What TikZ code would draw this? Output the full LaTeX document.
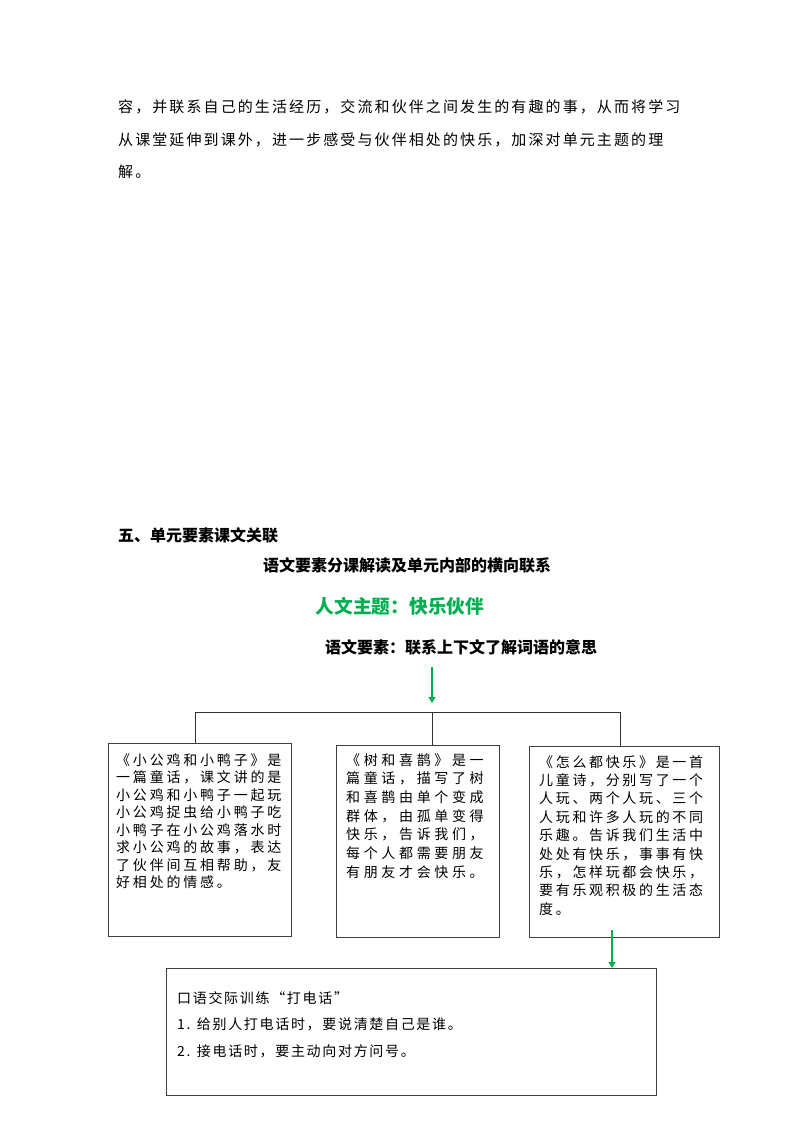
\documentclass[tikz,border=0pt]{standalone}
\usepackage{fontspec}
\setmainfont{Noto Sans CJK SC}
\usetikzlibrary{arrows.meta}
\definecolor{tgreen}{HTML}{00B050}
\definecolor{boxgray}{HTML}{404040}
\definecolor{linegray}{HTML}{333333}
\tikzset{
  txt/.style={inner sep=0pt, anchor=west},
  para/.style={txt, font=\fontsize{15}{17}\selectfont\addfontfeature{LetterSpace=14}},
  heading/.style={txt, font=\fontsize{16}{18}\selectfont\bfseries},
  boxtxt/.style={inner sep=0pt, anchor=north west, align=left},
  frame/.style={draw=boxgray, line width=1.2pt, inner sep=0pt, anchor=north west},
  conn/.style={draw=linegray, line width=0.9pt},
  garrow/.style={draw=tgreen, line width=1.4pt, -{Triangle[length=6pt,width=7pt]}}
}
\begin{document}
\begin{tikzpicture}[x=1pt,y=-1pt]
\useasboundingbox (0,0) rectangle (800,1132);
\fill[white] (0,0) rectangle (800,1132);
% paragraph
\node[para] (p1) at (118,107) {容，并联系自己的生活经历，交流和伙伴之间发生的有趣的事，从而将学习};
\node[para] (p2) at (118,140) {从课堂延伸到课外，进一步感受与伙伴相处的快乐，加深对单元主题的理};
\node[para] (p3) at (118,172) {解。};
% headings
\node[heading] (h1) at (118,535) {五、单元要素课文关联};
\node[heading, anchor=center] (h2) at (407,565) {语文要素分课解读及单元内部的横向联系};
\node[inner sep=0pt, text=tgreen, font=\fontsize{18.7}{20}\selectfont\bfseries] (h3) at (400,606) {人文主题：快乐伙伴};
\node[heading, anchor=center] (h4) at (461,647) {语文要素：联系上下文了解词语的意思};
% boxes
\node[frame, minimum width=183pt, minimum height=193pt] (b1) at (108,743) {};
\node[frame, minimum width=163pt, minimum height=192pt] (b2) at (336,745) {};
\node[frame, minimum width=190pt, minimum height=191pt] (b3) at (529,746) {};
\node[frame, minimum width=490pt, minimum height=127pt] (b4) at (166,968) {};
% box texts
\node[boxtxt, font=\fontsize{14}{17.5}\selectfont\addfontfeature{LetterSpace=20}] (t1) at (116,753) {%
《小公鸡和小鸭子》是\\一篇童话，课文讲的是\\小公鸡和小鸭子一起玩\\小公鸡捉虫给小鸭子吃\\小鸭子在小公鸡落水时\\求小公鸡的故事，表达\\了伙伴间互相帮助，友\\好相处的情感。};
\node[boxtxt, font=\fontsize{14}{18.7}\selectfont\addfontfeature{LetterSpace=26}] (t2) at (346,753) {%
《树和喜鹊》是一\\篇童话，描写了树\\和喜鹊由单个变成\\群体，由孤单变得\\快乐，告诉我们，\\每个人都需要朋友\\有朋友才会快乐。};
\node[boxtxt, font=\fontsize{14}{18.4}\selectfont\addfontfeature{LetterSpace=19}] (t3) at (539,755) {%
《怎么都快乐》是一首\\儿童诗，分别写了一个\\人玩、两个人玩、三个\\人玩和许多人玩的不同\\乐趣。告诉我们生活中\\处处有快乐，事事有快\\乐，怎样玩都会快乐，\\要有乐观积极的生活态\\度。};
\node[boxtxt, font=\fontsize{14}{26.5}\selectfont\addfontfeature{LetterSpace=12}] (t4) at (177,991) {%
口语交际训练“打电话”\\1. 给别人打电话时，要说清楚自己是谁。\\2. 接电话时，要主动向对方问号。};
% connectors
\coordinate (a1) at (432,667);
\coordinate (hL) at (195,712);
\coordinate (hM) at (432,712);
\coordinate (hR) at (620,712);
\draw[garrow] (a1) -- ([yshift=9pt]hM);
\draw[conn] (hL) -- (hR);
\draw[conn] (hL) -- (hL |- b1.north);
\draw[conn] (hM) -- (hM |- b2.north);
\draw[conn] (hR) -- (hR |- b3.north);
\coordinate (a2) at (612,930);
\draw[garrow] (a2) -- (a2 |- b4.north);
\end{tikzpicture}
\end{document}
